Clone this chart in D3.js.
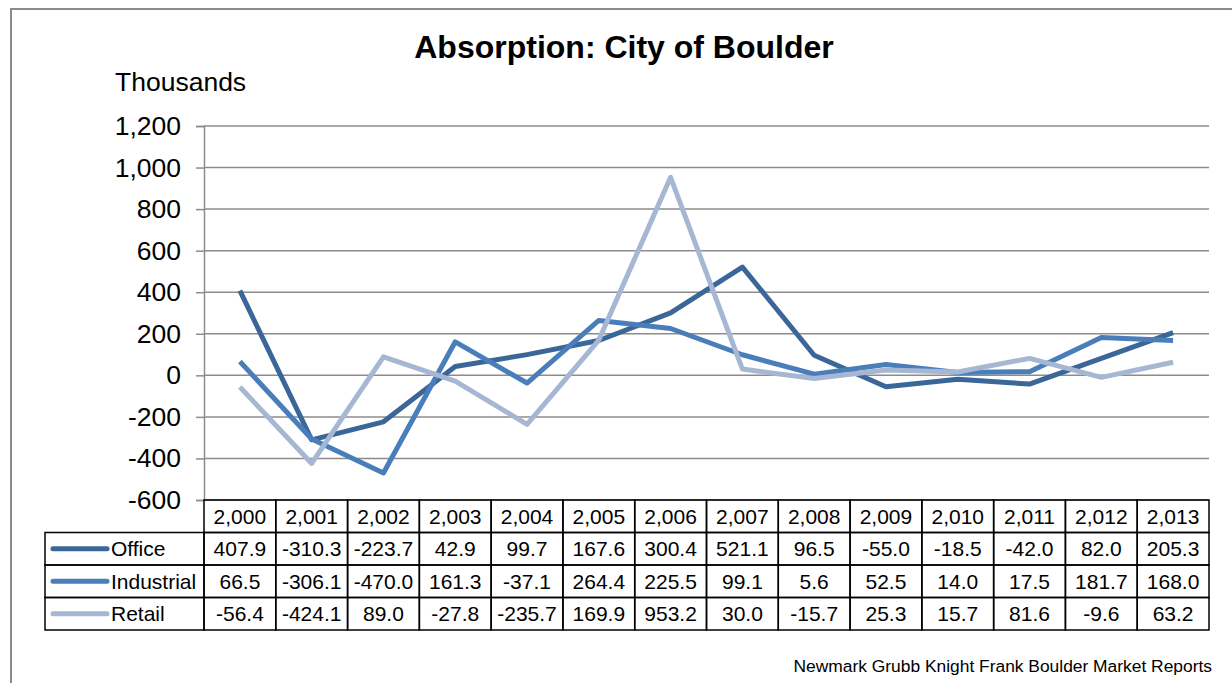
<!DOCTYPE html>
<html>
<head>
<meta charset="utf-8">
<script src="https://cdn.jsdelivr.net/npm/d3@7"></script>
<style>
  body { margin: 0; background: #fff; }
  svg { display: block; font-family: "Liberation Sans", Arial, sans-serif; }
</style>
</head>
<body>
<svg id="chart" width="1232" height="683"></svg>
<script>
'use strict';

var years      = ["2,000","2,001","2,002","2,003","2,004","2,005","2,006","2,007","2,008","2,009","2,010","2,011","2,012","2,013"];
var office     = [407.9,-310.3,-223.7,42.9,99.7,167.6,300.4,521.1,96.5,-55.0,-18.5,-42.0,82.0,205.3];
var industrial = [66.5,-306.1,-470.0,161.3,-37.1,264.4,225.5,99.1,5.6,52.5,14.0,17.5,181.7,168.0];
var retail     = [-56.4,-424.1,89.0,-27.8,-235.7,169.9,953.2,30.0,-15.7,25.3,15.7,81.6,-9.6,63.2];
var yTicks     = [-600,-400,-200,0,200,400,600,800,1000,1200];

var series = [
    {name: "Office",     values: office,     color: "#3b6698"},
    {name: "Industrial", values: industrial, color: "#4a7ebb"},
    {name: "Retail",     values: retail,     color: "#a6b7d4"}
];

// plain hyphen for negatives, like the original
var locale = d3.formatLocale({decimal: ".", thousands: ",", grouping: [3], currency: ["$", ""], minus: "-"});

function drawChart() {
    var svg = d3.select("#chart");

    // layout
    var plotL = 204, plotR = 1209, plotT = 126, plotB = 500,
        rowH = 32.5, legendL = 45;

    var x = d3.scaleBand().domain(years).range([plotL, plotR]);
    var y = d3.scaleLinear().domain([-600, 1200]).range([plotB, plotT]);

    // outer frame (left + top only visible)
    svg.append("path")
        .attr("d", "M11,683 L11,9 L1232,9")
        .attr("fill", "none").attr("stroke", "#8c8c8c").attr("stroke-width", 2);

    // title
    svg.append("text")
        .attr("x", 624).attr("y", 58)
        .attr("text-anchor", "middle")
        .attr("font-size", 32).attr("font-weight", "bold")
        .text("Absorption: City of Boulder");

    svg.append("text")
        .attr("x", 115).attr("y", 91)
        .attr("font-size", 26.5)
        .text("Thousands");

    // gridlines
    svg.append("g").selectAll("line").data(yTicks).enter().append("line")
        .attr("x1", plotL).attr("x2", plotR)
        .attr("y1", function(d){return y(d)}).attr("y2", function(d){return y(d)})
        .attr("stroke", "#8c8c8c").attr("stroke-width", 1.5);

    // y axis
    var yAxis = d3.axisLeft(y).tickValues(yTicks).tickSize(8).tickPadding(15)
        .tickFormat(locale.format(","));
    var gy = svg.append("g").attr("transform", "translate(" + plotL + ",0)").call(yAxis);
    gy.select(".domain").attr("stroke", "#8c8c8c").attr("stroke-width", 1.5);
    gy.selectAll(".tick line").attr("stroke", "#8c8c8c").attr("stroke-width", 1.5);
    gy.selectAll(".tick text").attr("font-size", 26.5).attr("fill", "#000")
        .attr("font-family", "Liberation Sans, Arial, sans-serif");

    // lines
    var line = d3.line()
        .x(function(d, i){return x(years[i]) + x.bandwidth() / 2})
        .y(function(d){return y(d)});

    svg.append("g").selectAll("path").data(series).enter().append("path")
        .attr("d", function(s){return line(s.values)})
        .attr("fill", "none")
        .attr("stroke", function(s){return s.color})
        .attr("stroke-width", 5)
        .attr("stroke-linejoin", "round");

    // data table
    var table = svg.append("g").attr("font-size", 21),
        fmt   = locale.format(".1f"),
        dy    = 7.5;

    // header row
    years.forEach(function(yr){
        table.append("rect")
            .attr("x", x(yr)).attr("y", plotB)
            .attr("width", x.bandwidth()).attr("height", rowH)
            .attr("fill", "none").attr("stroke", "#000").attr("stroke-width", 1.5);
        table.append("text")
            .attr("x", x(yr) + x.bandwidth() / 2).attr("y", plotB + rowH / 2 + dy)
            .attr("text-anchor", "middle").text(yr);
    });

    series.forEach(function(s, r){
        var ry = plotB + rowH * (r + 1);
        table.append("rect")
            .attr("x", legendL).attr("y", ry)
            .attr("width", plotL - legendL).attr("height", rowH)
            .attr("fill", "none").attr("stroke", "#000").attr("stroke-width", 1.5);
        table.append("line")
            .attr("x1", legendL + 8).attr("x2", legendL + 62)
            .attr("y1", ry + rowH / 2).attr("y2", ry + rowH / 2)
            .attr("stroke", s.color).attr("stroke-width", 5).attr("stroke-linecap", "round");
        table.append("text")
            .attr("x", legendL + 66).attr("y", ry + rowH / 2 + dy)
            .text(s.name);
        s.values.forEach(function(v, i){
            table.append("rect")
                .attr("x", x(years[i])).attr("y", ry)
                .attr("width", x.bandwidth()).attr("height", rowH)
                .attr("fill", "none").attr("stroke", "#000").attr("stroke-width", 1.5);
            table.append("text")
                .attr("x", x(years[i]) + x.bandwidth() / 2).attr("y", ry + rowH / 2 + dy)
                .attr("text-anchor", "middle").text(fmt(v));
        });
    });

    // source
    svg.append("text")
        .attr("x", 1212).attr("y", 672)
        .attr("text-anchor", "end").attr("font-size", 17.4)
        .text("Newmark Grubb Knight Frank Boulder Market Reports");
}

drawChart();
</script>
</body>
</html>
